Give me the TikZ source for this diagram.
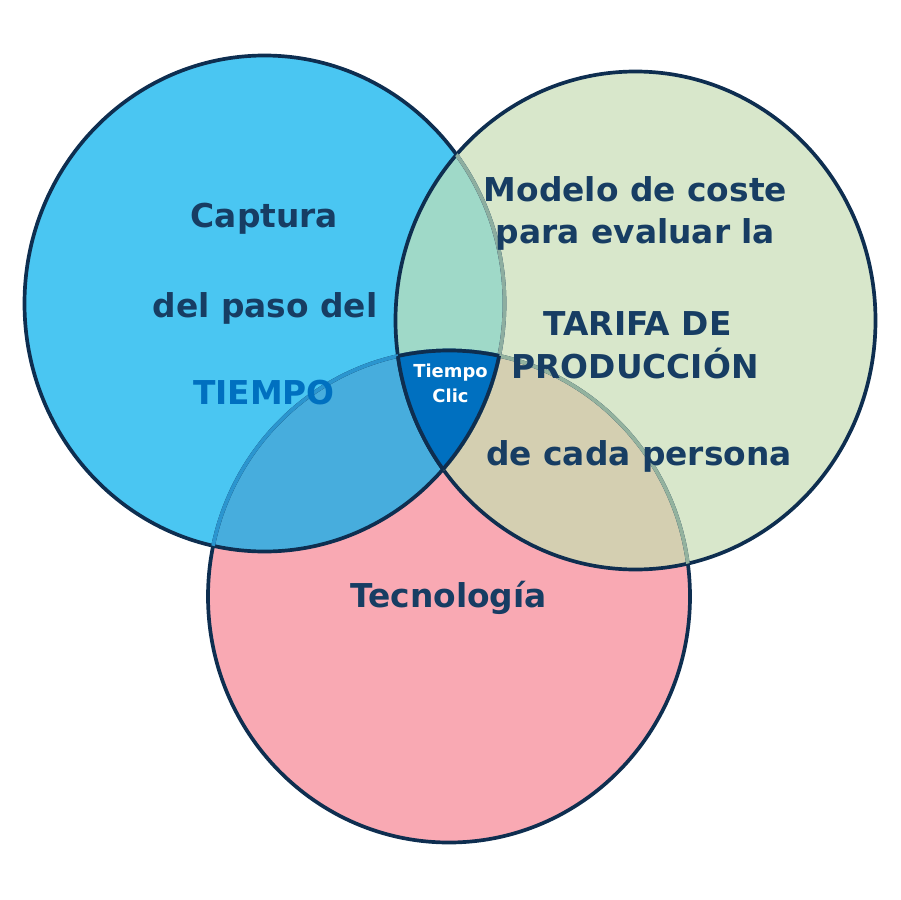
\documentclass[tikz,border=0pt]{standalone}
\usepackage{fontspec}
\setmainfont{DejaVu Sans}
\usepackage{tikz}
\usetikzlibrary{positioning}

\definecolor{rimnavy}{HTML}{0E2E50}
\definecolor{textnavy}{HTML}{173D63}
\definecolor{clicblue}{HTML}{0070C0}
\definecolor{bluefill}{HTML}{4AC6F2}
\definecolor{greenfill}{HTML}{D8E7CB}
\definecolor{pinkfill}{HTML}{F9A9B3}
\definecolor{bgfill}{HTML}{9FD9C8}
\definecolor{bpfill}{HTML}{47ADDD}
\definecolor{gpfill}{HTML}{D4CFB1}

\def\circtiempo{(264.5,303.5) ellipse [x radius=240, y radius=248]}
\def\circcoste{(635.5,320.5) ellipse [x radius=240, y radius=249]}
\def\circtecno{(449,596.5) ellipse [x radius=241, y radius=246]}

\begin{document}
\begin{tikzpicture}[x=0.02cm, y=-0.02cm]

\tikzstyle{rim} = [draw=rimnavy, line width=2.1pt]
\tikzstyle{seen} = [line width=2.1pt]
\tikzstyle{big} = [font=\fontsize{18.7}{22}\selectfont\bfseries, text=textnavy, anchor=base, inner sep=0pt]
\tikzstyle{small} = [font=\fontsize{10.2}{14}\selectfont\bfseries, text=white, anchor=base, inner sep=0pt]

\useasboundingbox (0,0) rectangle (900,900);

% circles
\fill[pinkfill] \circtecno;
\fill[bluefill] \circtiempo;
\fill[greenfill] \circcoste;
% overlaps
\begin{scope}
\clip \circtiempo;
\fill[bgfill] \circcoste;
\fill[bpfill] \circtecno;
\end{scope}
\begin{scope}
\clip \circcoste;
\fill[gpfill] \circtecno;
\end{scope}
% rims
\draw[rim] \circtecno;
\draw[rim] \circtiempo;
\draw[rim] \circcoste;
% rims seen through
\begin{scope}
\clip \circcoste;
\draw[seen, color={rgb,255:red,141;green,174;blue,160}] \circtiempo;
\draw[seen, color={rgb,255:red,147;green,178;blue,158}] \circtecno;
\end{scope}
\begin{scope}
\clip \circtiempo;
\draw[seen, color={rgb,255:red,43;green,149;blue,207}] \circtecno;
\end{scope}
% centre
\begin{scope}
\clip \circtiempo;
\clip \circcoste;
\fill[clicblue] \circtecno;
\draw[rim] \circtecno;
\end{scope}
\begin{scope}
\clip \circcoste;
\clip \circtecno;
\draw[rim] \circtiempo;
\end{scope}
\begin{scope}
\clip \circtiempo;
\clip \circtecno;
\draw[rim] \circcoste;
\end{scope}

% tiempo
\node[big] at (264.5,227) (captura) {Captura};
\node[big] at (265,317) (paso) {del paso del};
\node[big, text=clicblue] at (264,404) (tiempo) {TIEMPO};
% coste
\node[big] at (635.5,201) (modelo) {Modelo de coste};
\node[big] at (635.5,243) (evaluar) {para evaluar la};
\node[big] at (637.5,335) (tarifa) {TARIFA DE};
\node[big] at (635,378) (produccion) {PRODUCCIÓN};
\node[big] at (639,465) (persona) {de cada persona};
% tecnologia
\node[big] at (448.5,607) (tecno) {Tecnología};
% centre
\node[small] at (450.5,377) (clic1) {Tiempo};
\node[small] at (450.5,402) (clic2) {Clic};
\end{tikzpicture}
\end{document}
